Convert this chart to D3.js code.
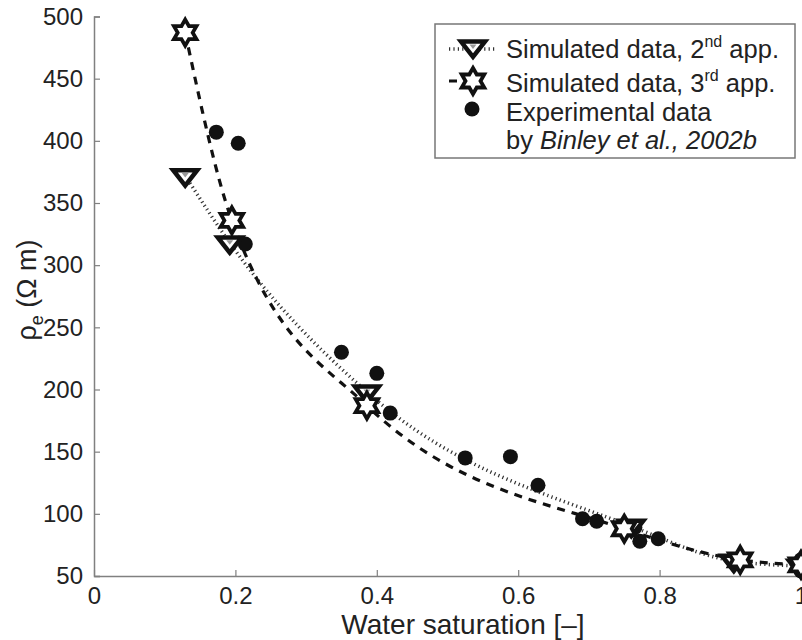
<!DOCTYPE html>
<html>
<head>
<meta charset="utf-8">
<script src="https://cdn.jsdelivr.net/npm/d3@7"></script>
<style>
  body { margin: 0; background: #fff; }
  svg { display: block; font-family: "Liberation Sans", Arial, Helvetica, sans-serif; }
</style>
</head>
<body>
<svg id="chart" width="802" height="640"></svg>
<script>
// simulated data, 2nd approach (triangles, dotted)
var sat2 = [0.129, 0.192, 0.386, 0.760, 0.905, 1.0];
var rho2 = [372, 318, 198, 90, 62, 58];
// simulated data, 3rd approach (hexagrams, dashed)
var sat3 = [0.129, 0.195, 0.386, 0.750, 0.914, 1.0];
var rho3 = [487, 336, 187, 88, 63, 59];
// experimental data (Binley et al., 2002b)
var satExp = [0.173, 0.204, 0.214, 0.350, 0.400, 0.419, 0.525, 0.589, 0.628, 0.691, 0.711, 0.765, 0.772, 0.798, 1.0, 1.0, 1.0];
var rhoExp = [407, 398, 317, 230, 213, 181, 145, 146, 123, 96, 94, 89, 78, 80, 63, 58, 54];

var xTicks = [0, 0.2, 0.4, 0.6, 0.8, 1];
var yTicks = [50, 100, 150, 200, 250, 300, 350, 400, 450, 500];

(function(){
var svg = d3.select("#chart");
var mLeft = 94, mRight = 801, mTop = 16.5, mBottom = 576;

var x = d3.scaleLinear().domain([0, 1]).range([mLeft, mRight]);
var y = d3.scaleLinear().domain([50, 500]).range([mBottom, mTop]);

var axisColor = "#808080", textColor = "#222";

// axes, ticks pointing inward
var gx = svg.append("g")
  .attr("transform", "translate(0," + mBottom + ")")
  .call(d3.axisBottom(x).tickValues(xTicks).tickSizeInner(-6).tickSizeOuter(0).tickPadding(11)
    .tickFormat(function(d){ return d3.format("")(d); }));
var gy = svg.append("g")
  .attr("transform", "translate(" + mLeft + ",0)")
  .call(d3.axisLeft(y).tickValues(yTicks).tickSizeInner(-6).tickSizeOuter(-6).tickPadding(11));

[gx, gy].forEach(function(g){
  g.select(".domain").attr("stroke", axisColor).attr("stroke-width", 1.5);
  g.selectAll(".tick line").attr("stroke", axisColor).attr("stroke-width", 1.2);
  g.selectAll(".tick text").attr("fill", textColor).attr("font-size", 24)
    .attr("font-family", "Liberation Sans, Arial, sans-serif");
});

// axis titles
svg.append("text")
  .attr("x", 463).attr("y", 634)
  .attr("text-anchor", "middle")
  .attr("font-size", 28).attr("fill", textColor)
  .text("Water saturation [\u2013]");

var yt = svg.append("text")
  .attr("transform", "translate(36,290) rotate(-90)")
  .attr("text-anchor", "middle")
  .attr("font-size", 27).attr("fill", textColor);
yt.append("tspan").text("\u03c1");
yt.append("tspan").attr("font-size", 18).attr("dy", 7).text("e");
yt.append("tspan").attr("dy", -7).text(" (\u03a9 m)");

// lines
function pts(xs, ys){ return xs.map(function(d, i){ return [d, ys[i]]; }); }
var line = d3.line()
  .x(function(d){ return x(d[0]); })
  .y(function(d){ return y(d[1]); })
  .curve(d3.curveMonotoneX);

svg.append("path")
  .attr("d", line(pts(sat2, rho2)))
  .attr("fill", "none").attr("stroke", "#333")
  .attr("stroke-width", 3.5).attr("stroke-dasharray", "1.2,3.2");

svg.append("path")
  .attr("d", line(pts(sat3, rho3)))
  .attr("fill", "none").attr("stroke", "#111")
  .attr("stroke-width", 3.2).attr("stroke-dasharray", "8,7");

// marker shapes
function triPath(s){
  var h = s * 0.75;
  return "M" + (-s) + "," + (-h * 0.6) + "L" + s + "," + (-h * 0.6) + "L0," + (h * 1.1) + "Z";
}
function hexPath(r){
  var p = d3.path();
  for (var k = 0; k < 12; k++){
    var a = -Math.PI / 2 + k * Math.PI / 6;
    var rr = (k % 2 === 0) ? r : r * 0.577;
    var px = rr * Math.cos(a), py = rr * Math.sin(a);
    if (k === 0) p.moveTo(px, py); else p.lineTo(px, py);
  }
  p.closePath();
  return p.toString();
}

function drawTri(g, cx, cy){
  g.append("path").attr("d", triPath(12))
    .attr("transform", "translate(" + cx + "," + cy + ")")
    .attr("fill", "#fff").attr("stroke", "#111").attr("stroke-width", 4.5)
    .attr("stroke-linejoin", "miter");
  g.append("path").attr("d", triPath(3.5))
    .attr("transform", "translate(" + cx + "," + (cy - 1) + ")")
    .attr("fill", "#999").attr("stroke", "none");
}
function drawHex(g, cx, cy){
  g.append("path").attr("d", hexPath(13))
    .attr("transform", "translate(" + cx + "," + cy + ")")
    .attr("fill", "#fff").attr("stroke", "#111").attr("stroke-width", 3.8)
    .attr("stroke-linejoin", "miter");
}

// experimental dots
svg.append("g").selectAll("circle")
  .data(pts(satExp, rhoExp))
  .enter().append("circle")
  .attr("cx", function(d){ return x(d[0]); })
  .attr("cy", function(d){ return y(d[1]); })
  .attr("r", 7.5)
  .attr("fill", "#111");

var gTri = svg.append("g");
pts(sat2, rho2).forEach(function(d){ drawTri(gTri, x(d[0]), y(d[1])); });
var gHex = svg.append("g");
pts(sat3, rho3).forEach(function(d){ drawHex(gHex, x(d[0]), y(d[1])); });

// legend
var lg = svg.append("g");
lg.append("rect")
  .attr("x", 435).attr("y", 24).attr("width", 360).attr("height", 134)
  .attr("fill", "#fff").attr("stroke", "#777").attr("stroke-width", 1.5);

lg.append("line").attr("x1", 449).attr("x2", 497).attr("y1", 49).attr("y2", 49)
  .attr("stroke", "#333").attr("stroke-width", 3.5).attr("stroke-dasharray", "1.2,3.2");
drawTri(lg, 473, 47);
lg.append("line").attr("x1", 449).attr("x2", 497).attr("y1", 81).attr("y2", 81)
  .attr("stroke", "#111").attr("stroke-width", 3).attr("stroke-dasharray", "8,11,3,30");
drawHex(lg, 473, 81);
lg.append("circle").attr("cx", 472).attr("cy", 109).attr("r", 7.5).attr("fill", "#111");

var legText = lg.append("g").attr("font-size", 25.5).attr("fill", textColor);
var t1 = legText.append("text").attr("x", 506).attr("y", 58);
t1.append("tspan").text("Simulated data, 2");
t1.append("tspan").attr("font-size", 16).attr("dy", -11).text("nd");
t1.append("tspan").attr("dy", 11).text(" app.");
var t2 = legText.append("text").attr("x", 506).attr("y", 92);
t2.append("tspan").text("Simulated data, 3");
t2.append("tspan").attr("font-size", 16).attr("dy", -11).text("rd");
t2.append("tspan").attr("dy", 11).text(" app.");
legText.append("text").attr("x", 506).attr("y", 121).text("Experimental data");
var t4 = legText.append("text").attr("x", 506).attr("y", 149);
t4.append("tspan").text("by ");
t4.append("tspan").attr("font-style", "italic").text("Binley et al., 2002b");
})();
</script>
</body>
</html>
